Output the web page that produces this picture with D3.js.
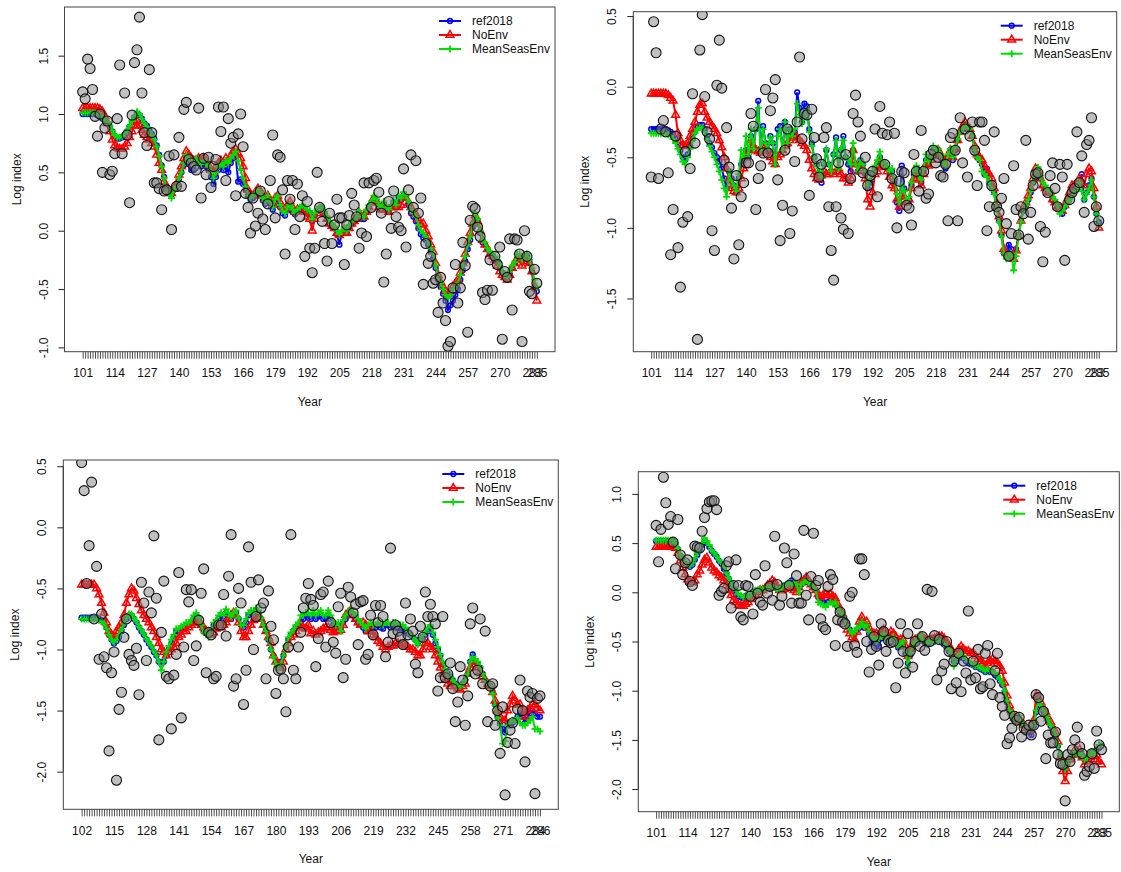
<!DOCTYPE html>
<html>
<head>
<meta charset="utf-8">
<script src="https://cdn.jsdelivr.net/npm/d3@7"></script>
<style>
  body { margin: 0; background: #fff; }
  svg { display: block; }
  text { font-family: "Liberation Sans", Arial, sans-serif; fill: #111; }
</style>
</head>
<body>
<svg id="chart" width="1121" height="872"></svg>
<script>
// ---------- panel 1 (top left) ----------
var years1 = d3.range(101, 286);
var xLab1 = [101,114,127,140,153,166,179,192,205,218,231,244,257,270,283,285];
var yTick1 = [-1, -0.5, 0, 0.5, 1, 1.5];
var obs1 = [
 1.19,1.13,1.47,1.39,1.21,0.98,0.81,1.0,0.5,0.88,
 0.94,0.48,0.51,0.66,0.96,1.42,0.66,1.18,0.82,0.24,
 0.99,1.44,1.55,1.83,1.18,0.84,0.73,1.38,0.84,0.41,
 0.41,0.36,0.18,0.34,0.35,0.64,0.01,0.65,0.38,0.8,
 0.38,1.04,1.1,0.61,0.58,0.55,0.52,1.05,0.28,0.62,
 0.48,0.63,0.37,0.55,0.61,1.06,0.85,1.06,0.43,0.96,
 0.75,0.8,0.3,0.83,1.0,0.72,0.32,0.2,-0.02,0.28,
 0.04,0.15,0.34,0.1,0.01,0.23,0.43,0.82,0.11,0.65,
 0.63,0.35,-0.2,0.43,0.27,0.43,0.01,0.4,0.12,0.3,
 -0.22,0.25,-0.15,-0.36,-0.15,0.5,0.2,0.08,-0.11,-0.26,
 0.15,-0.11,0.05,0.27,0.11,0.11,-0.29,0.05,0.13,0.32,
 0.22,0.12,-0.15,-0.02,0.41,-0.05,0.41,0.2,0.43,0.45,
 0.33,0.15,-0.44,-0.2,0.25,0.02,0.34,0.12,0.03,0.0,
 0.53,-0.14,0.35,0.65,0.2,0.6,0.15,0.28,-0.46,-0.11,
 -0.28,-0.22,-0.45,-0.42,-0.7,-0.4,-0.62,-0.77,-0.99,-0.95,
 -0.49,-0.29,-0.62,-0.49,-0.1,-0.3,-0.87,0.09,0.21,0.19,
 0.03,-0.05,-0.53,-0.59,-0.51,-0.25,-0.51,-0.22,-0.29,-0.14,
 -0.93,-0.35,-0.4,-0.07,-0.68,-0.07,-0.08,-0.2,-0.95,0.0,
 -0.22,-0.52,-0.54,-0.33,-0.45
];
var ref1 = [
 1.0,1.0,1.0,1.0,1.0,1.0,0.99,0.98,0.96,0.94,
 0.92,0.89,0.85,0.81,0.79,0.79,0.8,0.82,0.85,0.89,
 0.93,0.97,1.0,0.99,0.96,0.92,0.9,0.86,0.83,0.79,
 0.73,0.65,0.56,0.46,0.38,0.34,0.31,0.35,0.38,0.44,
 0.5,0.56,0.62,0.58,0.52,0.52,0.58,0.58,0.55,0.57,
 0.55,0.52,0.46,0.4,0.46,0.52,0.55,0.52,0.56,0.5,
 0.58,0.62,0.64,0.42,0.44,0.4,0.35,0.3,0.27,0.28,
 0.3,0.33,0.31,0.26,0.23,0.27,0.23,0.18,0.24,0.27,
 0.2,0.15,0.13,0.18,0.2,0.16,0.14,0.16,0.19,0.17,
 0.18,0.16,0.15,0.08,0.13,0.17,0.19,0.19,0.15,0.1,
 0.06,0.04,0.02,-0.03,-0.12,-0.02,0.01,-0.02,0.03,0.06,
 0.08,0.1,0.15,0.1,0.1,0.16,0.2,0.24,0.28,0.25,
 0.2,0.18,0.23,0.18,0.16,0.2,0.24,0.2,0.28,0.26,
 0.3,0.28,0.22,0.15,0.12,0.08,0.02,-0.03,-0.06,-0.08,
 -0.12,-0.18,-0.24,-0.32,-0.42,-0.48,-0.54,-0.6,-0.68,-0.64,
 -0.6,-0.55,-0.5,-0.42,-0.34,-0.26,-0.16,-0.08,0.03,0.12,
 0.08,-0.02,-0.1,-0.12,-0.16,-0.2,-0.22,-0.24,-0.27,-0.32,
 -0.36,-0.4,-0.42,-0.37,-0.32,-0.28,-0.24,-0.22,-0.26,-0.24,
 -0.22,-0.27,-0.35,-0.5,-0.52
];
var noenv1 = [
 1.05,1.05,1.05,1.05,1.05,1.05,1.05,1.04,1.02,0.98,
 0.92,0.85,0.78,0.73,0.71,0.7,0.7,0.72,0.75,0.8,
 0.85,0.9,0.94,0.9,0.86,0.82,0.8,0.78,0.75,0.72,
 0.65,0.58,0.52,0.42,0.36,0.33,0.32,0.36,0.4,0.48,
 0.55,0.62,0.68,0.65,0.62,0.6,0.6,0.62,0.6,0.62,
 0.6,0.56,0.52,0.5,0.55,0.58,0.6,0.58,0.62,0.6,
 0.64,0.68,0.7,0.66,0.62,0.55,0.45,0.35,0.3,0.3,
 0.33,0.36,0.34,0.3,0.27,0.3,0.26,0.22,0.28,0.3,
 0.24,0.2,0.18,0.22,0.25,0.2,0.16,0.18,0.18,0.2,
 0.16,0.12,0.1,0.0,0.1,0.15,0.18,0.18,0.14,0.1,
 0.06,0.04,0.02,-0.02,-0.04,-0.02,0.01,-0.02,0.02,0.06,
 0.08,0.1,0.15,0.12,0.12,0.16,0.2,0.24,0.28,0.25,
 0.2,0.18,0.22,0.18,0.16,0.2,0.22,0.2,0.2,0.22,
 0.28,0.28,0.24,0.2,0.16,0.14,0.1,0.05,0.06,0.0,
 -0.05,-0.12,-0.18,-0.28,-0.38,-0.44,-0.48,-0.52,-0.55,-0.52,
 -0.48,-0.45,-0.42,-0.36,-0.28,-0.2,-0.1,-0.02,0.06,0.13,
 0.08,0.0,-0.08,-0.12,-0.16,-0.2,-0.22,-0.25,-0.3,-0.35,
 -0.38,-0.4,-0.42,-0.38,-0.32,-0.28,-0.24,-0.25,-0.3,-0.26,
 -0.24,-0.28,-0.35,-0.48,-0.6
];
var mse1 = [
 1.01,1.01,1.01,1.01,1.01,1.01,1.0,0.99,0.97,0.95,
 0.93,0.9,0.86,0.82,0.8,0.8,0.81,0.83,0.86,0.9,
 0.94,0.98,1.02,1.0,0.96,0.92,0.89,0.85,0.82,0.78,
 0.72,0.64,0.55,0.45,0.36,0.32,0.28,0.35,0.38,0.45,
 0.5,0.58,0.65,0.62,0.6,0.58,0.62,0.6,0.57,0.6,
 0.58,0.55,0.5,0.45,0.5,0.55,0.58,0.55,0.6,0.58,
 0.62,0.65,0.68,0.6,0.52,0.45,0.38,0.3,0.28,0.3,
 0.32,0.35,0.33,0.28,0.25,0.3,0.25,0.2,0.27,0.3,
 0.22,0.17,0.15,0.2,0.22,0.18,0.15,0.18,0.2,0.22,
 0.2,0.18,0.17,0.1,0.15,0.18,0.2,0.2,0.16,0.12,
 0.08,0.06,0.04,0.0,-0.03,0.0,0.03,0.0,0.05,0.08,
 0.1,0.12,0.17,0.12,0.12,0.18,0.22,0.25,0.3,0.27,
 0.22,0.2,0.25,0.2,0.18,0.22,0.26,0.22,0.3,0.28,
 0.33,0.3,0.25,0.18,0.15,0.12,0.05,0.0,-0.02,-0.05,
 -0.1,-0.15,-0.2,-0.3,-0.4,-0.45,-0.5,-0.55,-0.58,-0.55,
 -0.5,-0.48,-0.45,-0.38,-0.3,-0.22,-0.12,-0.05,0.05,0.15,
 0.1,0.0,-0.08,-0.1,-0.15,-0.18,-0.2,-0.22,-0.25,-0.3,
 -0.35,-0.38,-0.4,-0.35,-0.3,-0.27,-0.2,-0.2,-0.25,-0.22,
 -0.2,-0.25,-0.32,-0.42,-0.48
];

// ---------- panel 2 (top right) ----------
var years2 = d3.range(101, 286);
var xLab2 = [101,114,127,140,153,166,179,192,205,218,231,244,257,270,283,285];
var yTick2 = [-1.5, -1, -0.5, 0, 0.5];
var obs2 = [
 -0.64,0.46,0.24,-0.65,-0.3,-0.24,-0.32,-0.61,-1.19,-0.87,
 -0.35,-1.14,-1.42,-0.96,-0.46,-0.92,-0.58,-0.05,-0.4,-1.79,
 0.26,0.51,-0.07,-0.32,-0.37,-1.02,-1.16,0.01,0.33,-0.01,
 -0.52,-0.29,-0.57,-0.86,-1.22,-0.63,-1.12,-0.78,-0.68,-0.54,
 -0.54,-0.19,-0.28,-0.87,-0.65,-0.56,-0.47,-0.02,-0.47,-0.17,
 -0.08,0.05,-0.66,-1.09,-0.84,-0.45,-0.3,-1.04,-0.88,-0.53,
 -0.25,0.21,-0.37,-0.19,-0.2,-0.77,-0.16,-0.36,-0.51,-0.64,
 -0.55,-0.36,-0.29,-0.85,-1.16,-1.37,-0.85,-0.54,-0.93,-1.01,
 -0.48,-1.04,-0.65,-0.19,-0.06,-0.25,-0.35,-0.61,-0.5,-0.7,
 -0.63,-0.6,-0.3,-0.78,-0.14,-0.33,-0.55,-0.34,-0.25,-0.65,
 -0.33,-1.0,-0.67,-0.6,-0.61,-0.84,-0.86,-0.98,-0.48,-0.6,
 -0.74,-0.31,-0.6,-0.79,-0.76,-0.48,-0.45,-0.54,-0.5,-0.63,
 -0.64,-0.55,-0.95,-0.36,-0.33,-0.45,-0.95,-0.22,-0.54,-0.3,
 -0.64,-0.35,-0.25,-0.45,-0.7,-0.25,-0.25,-0.38,-1.02,-0.85,
 -0.7,-0.32,-0.85,-0.89,-0.79,-0.65,-0.97,-1.2,-1.04,-0.56,
 -0.87,-1.05,-0.85,-0.9,-0.38,-1.08,-0.89,-0.7,-0.62,-0.61,
 -0.99,-1.24,-1.03,-0.75,-0.63,-0.54,-0.72,-0.85,-0.55,-0.64,
 -1.23,-0.55,-0.8,-0.75,-0.72,-0.32,-0.68,-0.49,-0.89,-0.41,
 -0.38,-0.22,-0.99,-0.85,-0.95
];
var ref2 = [
 -0.3,-0.3,-0.3,-0.3,-0.3,-0.3,-0.3,-0.31,-0.32,-0.34,
 -0.37,-0.41,-0.45,-0.5,-0.52,-0.48,-0.42,-0.37,-0.32,-0.29,
 -0.27,-0.27,-0.3,-0.35,-0.4,-0.43,-0.47,-0.5,-0.53,-0.58,
 -0.65,-0.72,-0.6,-0.65,-0.7,-0.75,-0.65,-0.55,-0.52,-0.45,
 -0.5,-0.35,-0.45,-0.3,-0.1,-0.45,-0.28,-0.4,-0.45,-0.35,
 -0.4,-0.55,-0.3,-0.28,-0.45,-0.25,-0.42,-0.3,-0.35,-0.32,
 -0.04,-0.15,-0.25,-0.12,-0.14,-0.3,-0.4,-0.5,-0.55,-0.62,
 -0.68,-0.55,-0.45,-0.55,-0.6,-0.48,-0.36,-0.6,-0.45,-0.35,
 -0.5,-0.55,-0.6,-0.45,-0.55,-0.6,-0.52,-0.55,-0.62,-0.72,
 -0.68,-0.62,-0.58,-0.55,-0.5,-0.55,-0.55,-0.58,-0.62,-0.6,
 -0.68,-0.82,-0.88,-0.56,-0.72,-0.82,-0.8,-0.7,-0.62,-0.58,
 -0.65,-0.68,-0.6,-0.52,-0.55,-0.5,-0.45,-0.48,-0.45,-0.5,
 -0.55,-0.58,-0.5,-0.45,-0.52,-0.45,-0.38,-0.32,-0.3,-0.28,
 -0.3,-0.3,-0.35,-0.45,-0.5,-0.52,-0.55,-0.62,-0.58,-0.68,
 -0.7,-0.75,-0.85,-0.95,-1.05,-1.18,-1.2,-1.12,-1.15,-1.2,
 -1.15,-1.05,-0.95,-0.88,-0.85,-0.8,-0.75,-0.68,-0.62,-0.6,
 -0.65,-0.7,-0.72,-0.75,-0.75,-0.8,-0.82,-0.85,-0.85,-0.9,
 -0.85,-0.82,-0.78,-0.75,-0.72,-0.72,-0.68,-0.62,-0.8,-0.75,
 -0.7,-0.65,-0.78,-0.9,-0.96
];
var noenv2 = [
 -0.05,-0.05,-0.05,-0.05,-0.05,-0.05,-0.05,-0.06,-0.08,-0.1,
 -0.2,-0.33,-0.38,-0.42,-0.42,-0.4,-0.35,-0.3,-0.25,-0.18,
 -0.13,-0.12,-0.18,-0.22,-0.25,-0.28,-0.3,-0.33,-0.38,-0.43,
 -0.5,-0.58,-0.65,-0.72,-0.74,-0.75,-0.72,-0.65,-0.58,-0.5,
 -0.45,-0.38,-0.42,-0.45,-0.46,-0.47,-0.46,-0.42,-0.45,-0.5,
 -0.53,-0.55,-0.5,-0.48,-0.45,-0.42,-0.4,-0.38,-0.36,-0.35,
 -0.36,-0.38,-0.4,-0.42,-0.45,-0.52,-0.58,-0.62,-0.65,-0.66,
 -0.63,-0.6,-0.62,-0.62,-0.6,-0.62,-0.6,-0.58,-0.62,-0.65,
 -0.65,-0.68,-0.65,-0.45,-0.55,-0.6,-0.55,-0.58,-0.65,-0.8,
 -0.85,-0.75,-0.62,-0.6,-0.52,-0.56,-0.57,-0.6,-0.64,-0.7,
 -0.72,-0.8,-0.85,-0.78,-0.78,-0.82,-0.8,-0.72,-0.65,-0.6,
 -0.66,-0.7,-0.62,-0.55,-0.56,-0.52,-0.47,-0.48,-0.45,-0.48,
 -0.52,-0.55,-0.5,-0.45,-0.5,-0.44,-0.38,-0.32,-0.28,-0.25,
 -0.28,-0.3,-0.35,-0.42,-0.48,-0.5,-0.52,-0.56,-0.6,-0.62,
 -0.65,-0.72,-0.82,-0.92,-1.02,-1.15,-1.18,-1.2,-1.2,-1.22,
 -1.16,-1.06,-0.95,-0.86,-0.82,-0.77,-0.72,-0.65,-0.58,-0.6,
 -0.65,-0.7,-0.72,-0.75,-0.75,-0.8,-0.82,-0.85,-0.86,-0.88,
 -0.84,-0.8,-0.75,-0.7,-0.7,-0.7,-0.65,-0.68,-0.7,-0.62,
 -0.58,-0.6,-0.72,-0.85,-1.0
];
var mse2 = [
 -0.33,-0.33,-0.33,-0.33,-0.33,-0.33,-0.33,-0.34,-0.35,-0.37,
 -0.4,-0.44,-0.48,-0.53,-0.55,-0.5,-0.44,-0.38,-0.33,-0.3,
 -0.29,-0.29,-0.32,-0.37,-0.42,-0.46,-0.5,-0.55,-0.6,-0.66,
 -0.72,-0.78,-0.6,-0.66,-0.7,-0.74,-0.62,-0.45,-0.5,-0.35,
 -0.48,-0.3,-0.44,-0.3,-0.15,-0.45,-0.3,-0.4,-0.44,-0.36,
 -0.4,-0.55,-0.35,-0.3,-0.45,-0.25,-0.4,-0.3,-0.35,-0.3,
 -0.12,-0.2,-0.26,-0.22,-0.16,-0.32,-0.42,-0.5,-0.56,-0.6,
 -0.64,-0.54,-0.44,-0.55,-0.6,-0.48,-0.38,-0.58,-0.44,-0.38,
 -0.5,-0.52,-0.55,-0.4,-0.55,-0.6,-0.52,-0.55,-0.6,-0.7,
 -0.66,-0.6,-0.56,-0.52,-0.46,-0.54,-0.54,-0.57,-0.6,-0.58,
 -0.66,-0.76,-0.82,-0.7,-0.74,-0.8,-0.78,-0.68,-0.6,-0.56,
 -0.63,-0.66,-0.58,-0.48,-0.53,-0.5,-0.42,-0.46,-0.44,-0.48,
 -0.53,-0.56,-0.48,-0.44,-0.5,-0.43,-0.37,-0.32,-0.3,-0.28,
 -0.28,-0.3,-0.35,-0.45,-0.5,-0.52,-0.6,-0.62,-0.64,-0.68,
 -0.72,-0.76,-0.86,-0.96,-1.06,-1.18,-1.22,-1.2,-1.18,-1.3,
 -1.2,-1.06,-0.96,-0.88,-0.84,-0.8,-0.74,-0.67,-0.6,-0.57,
 -0.63,-0.68,-0.7,-0.73,-0.74,-0.78,-0.8,-0.84,-0.9,-0.88,
 -0.85,-0.82,-0.8,-0.77,-0.74,-0.72,-0.68,-0.74,-0.8,-0.76,
 -0.72,-0.66,-0.78,-0.9,-0.98
];

// ---------- panel 3 (bottom left) ----------
var years3 = d3.range(102, 287);
var xLab3 = [102,115,128,141,154,167,180,193,206,219,232,245,258,271,284,286];
var yTick3 = [-2, -1.5, -1, -0.5, 0, 0.5];
var obs3 = [
 0.53,0.3,-0.46,-0.15,0.37,-0.75,-0.32,-1.08,-0.71,-1.06,
 -1.15,-1.83,-1.19,-1.02,-2.07,-1.49,-1.35,-0.9,-0.75,-1.04,
 -1.09,-1.13,-0.99,-1.37,-0.45,-0.62,-1.09,-0.53,-0.7,-0.07,
 -0.58,-1.74,-0.86,-0.44,-1.22,-1.24,-1.65,-1.21,-1.04,-0.37,
 -1.56,-0.98,-0.51,-0.61,-0.51,-1.09,-0.97,-0.76,-0.54,-0.34,
 -1.19,-0.86,-0.88,-1.24,-1.22,-0.8,-0.8,-0.55,-0.89,-0.4,
 -0.06,-1.3,-1.24,-0.5,-0.62,-1.45,-1.17,-0.16,-0.45,-1.0,
 -0.73,-0.43,-0.66,-0.62,-1.24,-0.52,-0.81,-0.92,-1.36,-1.17,
 -1.16,-1.24,-1.51,-0.98,-0.06,-1.17,-1.24,-0.98,-0.86,-0.66,
 -0.58,-0.46,-0.59,-0.64,-1.14,-0.91,-0.55,-0.53,-0.98,-0.44,
 -0.78,-0.94,-1.03,-0.65,-0.54,-1.23,-1.08,-0.49,-0.57,-0.7,
 -0.63,-0.96,-0.61,-0.6,-1.08,-1.04,-0.72,-0.88,-0.64,-0.78,
 -0.64,-0.73,-1.06,-0.94,-0.17,-0.87,-0.8,-0.85,-0.9,-0.96,
 -0.62,-0.88,-0.75,-0.85,-1.12,-1.19,-0.81,-0.9,-0.53,-0.73,
 -0.63,-0.73,-0.79,-1.34,-1.23,-0.73,-1.23,-1.2,-1.11,-1.32,
 -1.59,-1.43,-1.14,-1.25,-1.62,-1.38,-0.79,-0.66,-1.2,-1.17,
 -0.75,-1.28,-0.85,-1.59,-1.3,-1.28,-1.62,-1.5,-1.85,-1.47,
 -2.19,-1.76,-1.66,-1.6,-1.77,-1.49,-1.25,-1.5,-1.92,-1.34,
 -1.39,-1.36,-2.18,-1.4,-1.38
];
var ref3 = [
 -0.74,-0.74,-0.74,-0.74,-0.74,-0.74,-0.74,-0.75,-0.76,-0.78,
 -0.82,-0.88,-0.92,-0.95,-0.93,-0.9,-0.85,-0.8,-0.75,-0.72,
 -0.72,-0.75,-0.78,-0.82,-0.85,-0.88,-0.92,-0.95,-0.98,-1.02,
 -1.05,-1.1,-1.12,-1.1,-1.05,-1.0,-0.95,-0.9,-0.85,-0.85,
 -0.83,-0.82,-0.8,-0.8,-0.78,-0.75,-0.73,-0.75,-0.8,-0.85,
 -0.85,-0.88,-0.85,-0.8,-0.78,-0.75,-0.72,-0.73,-0.7,-0.72,
 -0.75,-0.72,-0.7,-0.75,-0.8,-0.82,-0.78,-0.72,-0.7,-0.72,
 -0.68,-0.7,-0.75,-0.8,-0.85,-0.92,-1.0,-1.05,-1.1,-1.12,
 -1.1,-1.05,-0.98,-0.92,-0.88,-0.85,-0.82,-0.81,-0.78,-0.75,
 -0.72,-0.74,-0.75,-0.72,-0.75,-0.73,-0.72,-0.75,-0.75,-0.72,
 -0.75,-0.8,-0.82,-0.8,-0.82,-0.78,-0.75,-0.72,-0.68,-0.72,
 -0.75,-0.78,-0.8,-0.82,-0.85,-0.83,-0.8,-0.82,-0.82,-0.8,
 -0.82,-0.83,-0.8,-0.8,-0.82,-0.8,-0.8,-0.82,-0.83,-0.82,
 -0.85,-0.87,-0.88,-0.9,-0.92,-0.95,-0.92,-0.9,-0.88,-0.85,
 -0.82,-0.88,-0.95,-1.0,-1.05,-1.12,-1.18,-1.2,-1.22,-1.25,
 -1.28,-1.3,-1.3,-1.28,-1.25,-1.2,-1.1,-1.04,-1.1,-1.12,
 -1.15,-1.2,-1.25,-1.28,-1.3,-1.35,-1.45,-1.55,-1.6,-1.65,
 -1.68,-1.6,-1.62,-1.6,-1.58,-1.55,-1.52,-1.55,-1.6,-1.55,
 -1.52,-1.5,-1.52,-1.55,-1.55
];
var noenv3 = [
 -0.47,-0.47,-0.47,-0.47,-0.47,-0.47,-0.5,-0.55,-0.62,-0.7,
 -0.78,-0.85,-0.88,-0.9,-0.85,-0.82,-0.78,-0.72,-0.62,-0.55,
 -0.5,-0.52,-0.58,-0.63,-0.68,-0.72,-0.75,-0.78,-0.82,-0.85,
 -0.9,-0.95,-1.0,-1.02,-1.05,-1.02,-1.0,-0.98,-0.95,-0.9,
 -0.88,-0.85,-0.85,-0.82,-0.8,-0.78,-0.78,-0.76,-0.8,-0.82,
 -0.85,-0.86,-0.88,-0.86,-0.83,-0.8,-0.82,-0.8,-0.78,-0.75,
 -0.72,-0.7,-0.72,-0.78,-0.85,-0.9,-0.9,-0.85,-0.8,-0.76,
 -0.75,-0.72,-0.75,-0.8,-0.85,-0.9,-0.95,-1.05,-1.1,-1.12,
 -1.15,-1.1,-1.0,-0.95,-0.9,-0.88,-0.85,-0.82,-0.8,-0.82,
 -0.83,-0.8,-0.87,-0.85,-0.88,-0.86,-0.85,-0.83,-0.82,-0.82,
 -0.84,-0.86,-0.85,-0.85,-0.84,-0.8,-0.72,-0.7,-0.68,-0.72,
 -0.75,-0.78,-0.8,-0.78,-0.8,-0.85,-0.85,-0.88,-0.9,-0.93,
 -0.95,-0.98,-1.0,-0.98,-0.97,-0.97,-0.95,-0.95,-0.96,-0.96,
 -0.97,-0.98,-1.0,-1.0,-1.02,-1.05,-1.05,-1.0,-0.95,-0.95,
 -0.98,-1.0,-1.05,-1.1,-1.15,-1.2,-1.25,-1.28,-1.3,-1.28,
 -1.3,-1.32,-1.33,-1.3,-1.28,-1.2,-1.15,-1.1,-1.12,-1.15,
 -1.18,-1.22,-1.25,-1.28,-1.3,-1.35,-1.42,-1.5,-1.55,-1.58,
 -1.58,-1.5,-1.45,-1.38,-1.42,-1.45,-1.45,-1.5,-1.55,-1.5,
 -1.48,-1.45,-1.45,-1.48,-1.5
];
var mse3 = [
 -0.75,-0.75,-0.75,-0.75,-0.75,-0.75,-0.75,-0.76,-0.77,-0.79,
 -0.83,-0.88,-0.92,-0.94,-0.92,-0.88,-0.84,-0.79,-0.74,-0.71,
 -0.71,-0.74,-0.77,-0.81,-0.84,-0.87,-0.91,-0.94,-0.97,-1.01,
 -1.05,-1.1,-1.17,-1.1,-1.02,-0.97,-0.92,-0.88,-0.83,-0.83,
 -0.81,-0.8,-0.78,-0.78,-0.76,-0.72,-0.7,-0.74,-0.8,-0.86,
 -0.86,-0.9,-0.84,-0.78,-0.76,-0.72,-0.7,-0.72,-0.67,-0.7,
 -0.73,-0.7,-0.68,-0.74,-0.8,-0.8,-0.75,-0.7,-0.68,-0.7,
 -0.66,-0.68,-0.74,-0.8,-0.85,-0.92,-1.0,-1.06,-1.12,-1.15,
 -1.12,-1.05,-0.97,-0.9,-0.86,-0.84,-0.8,-0.78,-0.72,-0.72,
 -0.7,-0.7,-0.72,-0.68,-0.72,-0.7,-0.68,-0.72,-0.72,-0.68,
 -0.72,-0.77,-0.8,-0.78,-0.85,-0.76,-0.72,-0.7,-0.67,-0.7,
 -0.72,-0.75,-0.78,-0.8,-0.83,-0.8,-0.78,-0.8,-0.8,-0.78,
 -0.8,-0.8,-0.78,-0.78,-0.8,-0.78,-0.78,-0.8,-0.8,-0.8,
 -0.82,-0.85,-0.88,-0.9,-0.93,-0.96,-0.92,-0.88,-0.86,-0.82,
 -0.8,-0.86,-0.92,-0.98,-1.04,-1.1,-1.16,-1.2,-1.22,-1.25,
 -1.28,-1.3,-1.3,-1.28,-1.25,-1.2,-1.1,-1.06,-1.08,-1.1,
 -1.14,-1.2,-1.25,-1.28,-1.3,-1.36,-1.46,-1.56,-1.62,-1.77,
 -1.75,-1.62,-1.6,-1.58,-1.58,-1.56,-1.6,-1.62,-1.62,-1.6,
 -1.58,-1.55,-1.65,-1.65,-1.67
];

// ---------- panel 4 (bottom right) ----------
var years4 = d3.range(101, 286);
var xLab4 = [101,114,127,140,153,166,179,192,205,218,231,244,257,270,283,285];
var yTick4 = [-2, -1.5, -1, -0.5, 0, 0.5, 1];
var obs4 = [
 0.68,0.31,0.64,1.17,0.91,0.69,0.77,0.51,0.24,0.74,
 0.38,0.18,0.3,0.33,0.11,0.07,0.47,0.46,0.45,0.62,
 0.76,0.85,0.92,0.93,0.93,0.84,-0.03,0.01,0.04,0.27,
 0.31,-0.16,0.07,0.33,0.07,-0.25,-0.28,0.07,0.06,-0.04,
 -0.22,0.18,-0.01,-0.1,-0.13,0.27,-0.01,0.06,-0.08,0.57,
 0.08,-0.13,-0.04,0.45,0.3,0.07,-0.11,0.39,0.17,-0.11,
 -0.11,0.63,-0.03,-0.28,0.16,0.6,0.07,0.12,-0.27,-0.35,
 -0.38,0.06,0.18,0.13,-0.54,-0.28,-0.2,-0.3,-0.32,-0.55,
 -0.04,0.0,-0.54,-0.61,0.34,0.34,0.18,-0.5,-0.81,-0.58,
 -0.45,-0.55,-0.74,-0.32,-0.4,-0.6,-0.49,-0.51,-0.5,-0.97,
 -0.72,-0.32,-0.6,-0.82,-0.42,-0.6,-0.76,-0.5,-0.32,-0.55,
 -0.45,-0.59,0.03,-0.5,0.01,-0.44,-0.89,-0.48,-0.8,-0.73,
 -0.5,-0.6,-0.98,-0.7,-0.92,-0.62,-1.01,-0.7,-0.82,-0.19,
 -0.89,-0.7,-0.87,-0.58,-0.98,-0.96,-0.62,-0.54,-0.93,-1.04,
 -0.8,-0.62,-1.07,-1.16,-1.25,-1.54,-1.48,-1.38,-1.26,-1.3,
 -1.27,-1.47,-1.38,-1.4,-1.35,-1.45,-1.35,-1.04,-1.07,-1.31,
 -1.21,-1.69,-1.45,-1.53,-1.53,-1.42,-1.65,-1.74,-1.75,-2.12,
 -1.65,-1.72,-1.6,-1.5,-1.37,-1.57,-1.64,-1.86,-1.82,-1.77,
 -1.64,-1.79,-1.41,-1.55,-1.6
];
var ref4 = [
 0.52,0.52,0.52,0.52,0.52,0.52,0.52,0.52,0.49,0.44,
 0.37,0.32,0.29,0.27,0.26,0.28,0.33,0.38,0.43,0.48,
 0.52,0.5,0.46,0.42,0.39,0.36,0.32,0.29,0.24,0.19,
 0.14,0.09,0.04,-0.02,-0.04,-0.05,-0.06,-0.04,-0.05,-0.04,
 -0.01,0.01,0.02,0.03,0.03,0.04,0.05,0.05,0.06,0.05,
 0.04,0.04,0.05,0.07,0.08,0.1,0.12,0.1,0.08,0.05,
 0.08,0.1,0.12,0.1,0.08,0.05,0.02,-0.05,-0.08,-0.1,
 -0.12,-0.1,-0.08,-0.1,-0.12,-0.15,-0.2,-0.22,-0.28,-0.33,
 -0.38,-0.42,-0.42,-0.38,-0.36,-0.32,-0.36,-0.35,-0.42,-0.52,
 -0.5,-0.55,-0.55,-0.47,-0.44,-0.46,-0.5,-0.5,-0.47,-0.52,
 -0.56,-0.53,-0.52,-0.62,-0.72,-0.64,-0.56,-0.52,-0.51,-0.47,
 -0.49,-0.51,-0.53,-0.51,-0.51,-0.5,-0.48,-0.48,-0.51,-0.53,
 -0.56,-0.6,-0.63,-0.7,-0.7,-0.67,-0.64,-0.67,-0.7,-0.72,
 -0.73,-0.74,-0.76,-0.76,-0.78,-0.79,-0.81,-0.79,-0.81,-0.81,
 -0.84,-0.86,-0.9,-0.94,-1.02,-1.12,-1.21,-1.26,-1.3,-1.31,
 -1.3,-1.33,-1.36,-1.39,-1.41,-1.45,-1.36,-1.22,-1.12,-1.16,
 -1.21,-1.26,-1.31,-1.36,-1.41,-1.46,-1.56,-1.66,-1.76,-1.8,
 -1.73,-1.68,-1.66,-1.63,-1.65,-1.62,-1.66,-1.7,-1.68,-1.66,
 -1.63,-1.66,-1.6,-1.58,-1.56
];
var noenv4 = [
 0.46,0.46,0.46,0.46,0.46,0.46,0.46,0.46,0.45,0.4,
 0.32,0.25,0.18,0.13,0.11,0.1,0.12,0.18,0.22,0.28,
 0.33,0.35,0.3,0.25,0.22,0.2,0.17,0.15,0.12,0.07,
 0.02,-0.03,-0.08,-0.1,-0.13,-0.14,-0.14,-0.12,-0.1,-0.07,
 -0.04,-0.02,0.0,0.02,0.02,0.04,0.07,0.09,0.12,0.1,
 0.06,0.02,0.02,0.03,0.05,0.05,0.04,0.02,0.0,0.05,
 0.1,0.12,0.15,0.12,0.08,0.05,0.02,-0.02,-0.05,-0.03,
 -0.02,-0.03,-0.02,-0.04,-0.06,-0.12,-0.18,-0.22,-0.3,-0.38,
 -0.42,-0.46,-0.48,-0.4,-0.3,-0.25,-0.32,-0.3,-0.36,-0.42,
 -0.42,-0.42,-0.45,-0.4,-0.38,-0.42,-0.45,-0.4,-0.42,-0.45,
 -0.5,-0.48,-0.48,-0.55,-0.65,-0.58,-0.52,-0.48,-0.48,-0.46,
 -0.46,-0.48,-0.5,-0.48,-0.48,-0.47,-0.46,-0.45,-0.45,-0.47,
 -0.5,-0.55,-0.58,-0.65,-0.62,-0.58,-0.55,-0.58,-0.6,-0.6,
 -0.62,-0.62,-0.65,-0.68,-0.7,-0.72,-0.75,-0.72,-0.7,-0.68,
 -0.7,-0.72,-0.75,-0.8,-0.92,-1.05,-1.15,-1.22,-1.28,-1.3,
 -1.3,-1.32,-1.35,-1.38,-1.38,-1.4,-1.3,-1.05,-1.08,-1.12,
 -1.18,-1.22,-1.28,-1.32,-1.38,-1.42,-1.52,-1.68,-1.82,-1.92,
 -1.82,-1.7,-1.65,-1.6,-1.62,-1.6,-1.68,-1.75,-1.72,-1.68,
 -1.65,-1.7,-1.65,-1.72,-1.75
];
var mse4 = [
 0.53,0.53,0.53,0.53,0.53,0.53,0.53,0.53,0.5,0.45,
 0.38,0.33,0.3,0.28,0.27,0.3,0.35,0.4,0.45,0.5,
 0.55,0.52,0.48,0.43,0.4,0.37,0.33,0.3,0.25,0.2,
 0.15,0.1,0.05,0.02,-0.02,-0.03,-0.05,-0.03,-0.05,-0.03,
 0.0,0.02,0.02,0.03,0.03,0.04,0.05,0.05,0.06,0.05,
 0.03,0.03,0.05,0.07,0.08,0.1,0.08,0.1,0.08,0.0,
 0.08,0.1,0.12,0.1,0.08,0.05,0.02,-0.1,-0.12,-0.13,
 -0.15,-0.12,-0.1,-0.12,-0.1,-0.15,-0.2,-0.22,-0.28,-0.33,
 -0.38,-0.42,-0.4,-0.36,-0.35,-0.3,-0.35,-0.33,-0.4,-0.45,
 -0.48,-0.5,-0.46,-0.45,-0.42,-0.45,-0.5,-0.48,-0.45,-0.5,
 -0.55,-0.52,-0.5,-0.6,-0.76,-0.62,-0.55,-0.5,-0.5,-0.43,
 -0.48,-0.5,-0.52,-0.5,-0.5,-0.5,-0.48,-0.48,-0.5,-0.52,
 -0.55,-0.58,-0.62,-0.75,-0.68,-0.65,-0.62,-0.65,-0.68,-0.7,
 -0.72,-0.73,-0.75,-0.75,-0.77,-0.78,-0.8,-0.78,-0.8,-0.8,
 -0.82,-0.85,-0.88,-0.92,-1.0,-1.1,-1.2,-1.25,-1.3,-1.3,
 -1.25,-1.32,-1.35,-1.38,-1.38,-1.4,-1.35,-1.2,-1.1,-1.15,
 -1.2,-1.25,-1.3,-1.35,-1.4,-1.45,-1.55,-1.65,-1.75,-1.8,
 -1.74,-1.68,-1.65,-1.62,-1.65,-1.62,-1.65,-1.7,-1.68,-1.65,
 -1.62,-1.65,-1.6,-1.55,-1.55
];

var seriesNames = ["ref2018", "NoEnv", "MeanSeasEnv"];
var seriesColors = ["#0000ff", "#ff0000", "#00dd00"];

// plot boxes (pixel edges) and y ranges of each panel
var panels = [
  {years: years1, obs: obs1, lines: [ref1, noenv1, mse1], xLab: xLab1, yTick: yTick1,
   box: {l: 64.5, t: 7, r: 555, b: 351.7}, yDom: [-1.037, 1.917]},
  {years: years2, obs: obs2, lines: [ref2, noenv2, mse2], xLab: xLab2, yTick: yTick2,
   box: {l: 633.3, t: 11.7, r: 1116.7, b: 351.7}, yDom: [-1.877, 0.531]},
  {years: years3, obs: obs3, lines: [ref3, noenv3, mse3], xLab: xLab3, yTick: yTick3,
   box: {l: 63.3, t: 460, r: 558.3, b: 809.3}, yDom: [-2.308, 0.551]},
  {years: years4, obs: obs4, lines: [ref4, noenv4, mse4], xLab: xLab4, yTick: yTick4,
   box: {l: 638.3, t: 471.7, r: 1119.3, b: 811.7}, yDom: [-2.230, 1.226]}
];

var svg = d3.select("#chart");

function drawMarker(g, k, color) {
  if (k === 0) {
    g.append("circle").attr("r", 2.4).attr("fill", "none")
      .attr("stroke", color).attr("stroke-width", 1.5);
  } else if (k === 1) {
    g.append("path").attr("d", d3.symbol(d3.symbolTriangle, 26)())
      .attr("fill", "none").attr("stroke", color).attr("stroke-width", 1.5);
  } else {
    g.append("path").attr("d", "M-3.5,0H3.5M0,-3.5V3.5")
      .attr("stroke", color).attr("stroke-width", 1.8);
  }
}

panels.forEach(function(p, pi) {
  var b = p.box;
  var x0 = p.years[0], x1 = p.years[p.years.length - 1];
  var pad = (x1 - x0) * 0.04;
  var x = d3.scaleLinear().domain([x0 - pad, x1 + pad]).range([b.l, b.r]);
  var y = d3.scaleLinear().domain(p.yDom).range([b.b, b.t]);
  var g = svg.append("g");

  var clipId = "clip" + pi;
  svg.append("clipPath").attr("id", clipId)
    .append("rect").attr("x", b.l).attr("y", b.t)
    .attr("width", b.r - b.l).attr("height", b.b - b.t);

  // x axis: a tick for every year, labels only every 13 years
  var labSet = new Set(p.xLab);
  var xAxis = g.append("g").attr("transform", "translate(0," + b.b + ")")
    .call(d3.axisBottom(x).tickValues(p.years).tickSize(7).tickSizeOuter(0).tickPadding(10)
      .tickFormat(function(d) { return labSet.has(d) ? d : ""; }));
  xAxis.select(".domain").remove();
  xAxis.selectAll("line").attr("stroke", "#222").attr("stroke-width", 0.8);
  xAxis.selectAll("text").attr("font-size", 12).attr("fill", "#111")
    .attr("font-family", "Liberation Sans, Arial, sans-serif");

  // y axis with rotated labels, R style
  var yAxis = g.append("g").attr("transform", "translate(" + b.l + ",0)")
    .call(d3.axisLeft(y).tickValues(p.yTick).tickSize(6).tickSizeOuter(0)
      .tickFormat(function(d) { return d.toFixed(1); }));
  yAxis.select(".domain").remove();
  yAxis.selectAll("line").attr("stroke", "#222");
  yAxis.selectAll("text").attr("font-size", 12).attr("fill", "#111")
    .attr("font-family", "Liberation Sans, Arial, sans-serif")
    .attr("x", 0).attr("dy", 0).attr("text-anchor", "middle")
    .attr("transform", "translate(-17,0) rotate(-90)");
  yAxis.append("line").attr("x1", 0).attr("x2", 0)
    .attr("y1", y(p.yTick[0])).attr("y2", y(p.yTick[p.yTick.length - 1]))
    .attr("stroke", "#222");

  // axis titles
  g.append("text").attr("x", (b.l + b.r) / 2).attr("y", b.b + 54)
    .attr("text-anchor", "middle").attr("font-size", 12).text("Year");
  g.append("text").attr("transform", "translate(" + (b.l - 44) + "," + ((b.t + b.b) / 2) + ") rotate(-90)")
    .attr("text-anchor", "middle").attr("font-size", 12).text("Log index");

  var plot = g.append("g").attr("clip-path", "url(#" + clipId + ")");

  // model lines with markers
  p.lines.forEach(function(vals, k) {
    var pts = p.years.map(function(yr, i) { return [yr, vals[i]]; });
    var line = d3.line().x(function(d) { return x(d[0]); }).y(function(d) { return y(d[1]); });
    plot.append("path").attr("d", line(pts)).attr("fill", "none")
      .attr("stroke", seriesColors[k]).attr("stroke-width", 2);
    plot.selectAll(".m" + k).data(pts).enter().append("g")
      .attr("class", "m" + k)
      .attr("transform", function(d) { return "translate(" + x(d[0]) + "," + y(d[1]) + ")"; })
      .each(function() { drawMarker(d3.select(this), k, seriesColors[k]); });
  });

  // observed index points
  plot.selectAll(".obs").data(p.years.map(function(yr, i) { return [yr, p.obs[i]]; }))
    .enter().append("circle").attr("class", "obs")
    .attr("cx", function(d) { return x(d[0]); })
    .attr("cy", function(d) { return y(d[1]); })
    .attr("r", 5)
    .attr("fill", "rgba(130,130,130,0.5)")
    .attr("stroke", "#111").attr("stroke-width", 1.1);

  // frame
  g.append("rect").attr("x", b.l).attr("y", b.t)
    .attr("width", b.r - b.l).attr("height", b.b - b.t)
    .attr("fill", "none").attr("stroke", "#444").attr("stroke-width", 1);

  // legend, top right inside the frame
  var leg = g.append("g");
  seriesNames.forEach(function(name, k) {
    var ly = b.t + 14 + k * 14;
    leg.append("line").attr("x1", b.r - 116).attr("x2", b.r - 94)
      .attr("y1", ly).attr("y2", ly)
      .attr("stroke", seriesColors[k]).attr("stroke-width", 2);
    var mg = leg.append("g").attr("transform", "translate(" + (b.r - 105) + "," + ly + ")");
    drawMarker(mg, k, seriesColors[k]);
    leg.append("text").attr("x", b.r - 83).attr("y", ly).attr("dy", "0.35em")
      .attr("font-size", 12).text(name);
  });
});
</script>
</body>
</html>
